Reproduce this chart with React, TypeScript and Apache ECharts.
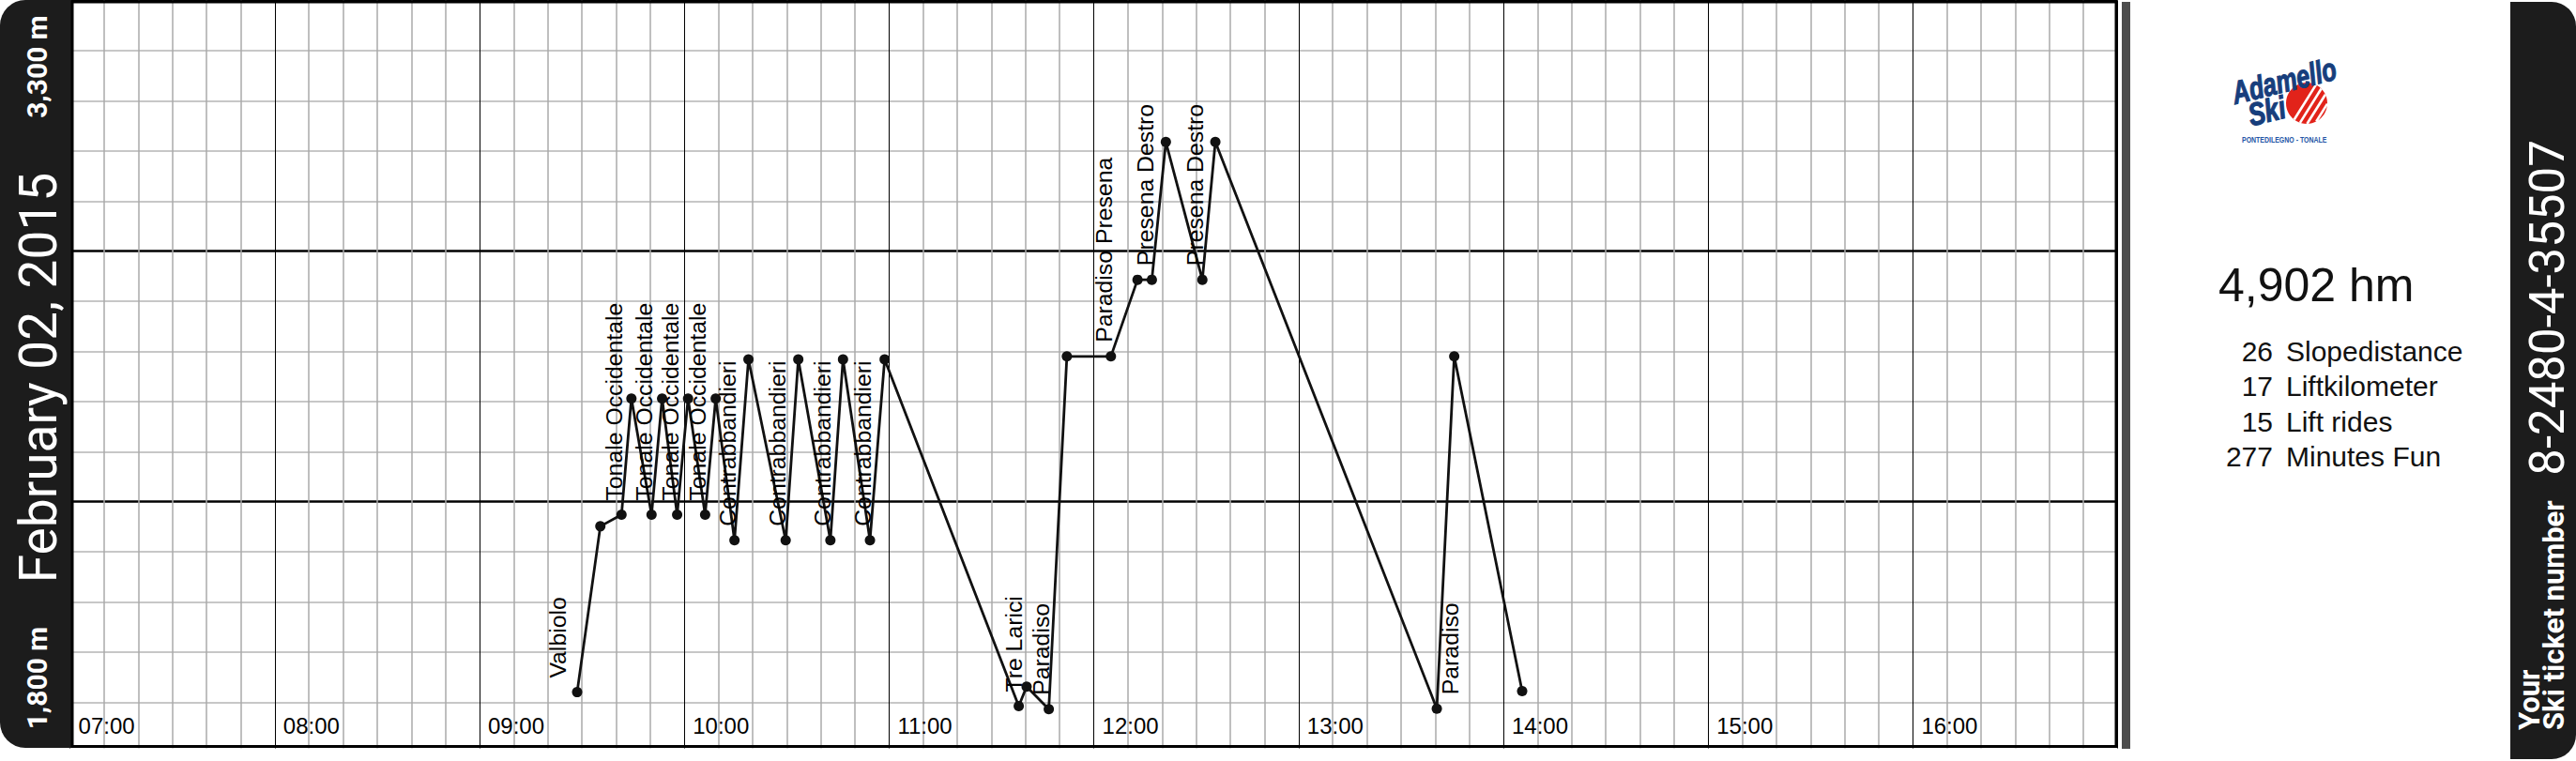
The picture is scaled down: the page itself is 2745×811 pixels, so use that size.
import React, { useEffect, useRef } from "react";
import * as echarts from "echarts";

// ---- data (time = minutes since midnight, altitude in metres) ----
const pointTimes = [
  568.6, 575.4, 581.6, 584.5, 590.4, 593.5, 597.9, 601.1, 606.1, 609.2,
  614.7, 618.8, 629.7, 633.4, 642.8, 646.5, 654.4, 658.7, 698.0, 700.3,
  706.8, 712.1, 725.0, 732.8, 737.0, 741.1, 751.8, 755.6, 820.5, 825.6, 845.5,
];
const pointAltitudes = [
  1920, 2251, 2274, 2506, 2274, 2506, 2274, 2506, 2274, 2506,
  2223, 2584, 2223, 2584, 2223, 2584, 2223, 2584, 1892, 1931,
  1886, 2590, 2590, 2743, 2743, 3018, 2743, 3018, 1887, 2590, 1922,
];
const liftNames = [
  "Valbiolo", "Tonale Occidentale", "Tonale Occidentale", "Tonale Occidentale",
  "Tonale Occidentale", "Contrabbandieri", "Contrabbandieri", "Contrabbandieri",
  "Contrabbandieri", "Tre Larici", "Paradiso", "Paradiso Presena",
  "Presena Destro", "Presena Destro", "Paradiso",
];
const liftLabelTimes = [
  562.9, 579.5, 588.3, 596.0, 603.9, 612.8, 627.4, 640.6, 652.2,
  696.7, 704.6, 723.0, 735.1, 749.7, 824.5,
];
const liftPointIndex = [0, 2, 4, 6, 8, 10, 12, 14, 16, 18, 20, 22, 24, 26, 28];

const timeMin = 420; // 07:00
const timeMax = 1020; // 17:00
const timeStep = 60;
const altMin = 1800;
const altMax = 3300;
const altStep = 500;

const dateText = "February 02, 2015";
const altLowText = "1,800 m";
const altHighText = "3,300 m";
const totalText = "4,902 hm";
const statValues = ["26", "17", "15", "277"];
const statNames = ["Slopedistance", "Liftkilometer", "Lift rides", "Minutes Fun"];
const ticketCaption1 = "Your";
const ticketCaption2 = "Ski ticket number";
const ticketNumber = "8-2480-4-35507";
const logoWord1 = "Adamello";
const logoWord2 = "Ski";
const logoPlace = "PONTEDILEGNO - TONALE";

const ARIAL = "'Liberation Sans', Arial, sans-serif";
const ROBOTO = "Roboto, 'Liberation Sans', sans-serif";

function hourLabel(v: number): string {
  if (v >= timeMax) return "";
  const h = Math.floor(v / 60);
  return (h < 10 ? "0" : "") + h + ":00";
}

function buildGraphic(): any[] {
  const els: any[] = [];
  // white cover under plot bottom
  els.push({
    type: "rect", z: 9, silent: true,
    shape: { x: 60, y: 797.5, width: 2202, height: 14 },
    style: { fill: "#fff" },
  });
  // left dark bar
  els.push({
    type: "rect", z: 10, silent: true,
    shape: { x: 0, y: 0, width: 76, height: 797, r: [27, 0, 0, 27] },
    style: { fill: "#1c1c1c" },
  });
  els.push({
    type: "text", z: 11, x: 39.5, y: 71, rotation: Math.PI / 2,
    style: { text: altHighText, fill: "#fff", fontSize: 30, fontWeight: "bold", fontFamily: ROBOTO, align: "center", verticalAlign: "middle" },
  });
  els.push({
    type: "text", z: 11, x: 39.5, y: 722.5, rotation: Math.PI / 2,
    style: { text: altLowText, fill: "#fff", fontSize: 30, fontWeight: "bold", fontFamily: ROBOTO, align: "center", verticalAlign: "middle" },
  });
  els.push({
    type: "text", z: 11, x: 41, y: 402.5, rotation: Math.PI / 2,
    style: { text: dateText, fill: "#fff", fontSize: 55, fontWeight: "normal", fontFamily: ROBOTO, align: "center", verticalAlign: "middle" },
  });
  // plot border
  els.push({
    type: "rect", z: 12, silent: true,
    shape: { x: 77, y: 2, width: 2178, height: 793.5 },
    style: { fill: "none", stroke: "#000", lineWidth: 3 },
  });
  // separator
  els.push({
    type: "rect", z: 10, silent: true,
    shape: { x: 2261, y: 2, width: 9, height: 796 },
    style: { fill: "#4d4d4d" },
  });
  // right dark bar
  els.push({
    type: "rect", z: 10, silent: true,
    shape: { x: 2675, y: 2, width: 70, height: 807, r: [0, 26, 26, 0] },
    style: { fill: "#1c1c1c" },
  });
  els.push({
    type: "text", z: 11, x: 2714, y: 328, rotation: Math.PI / 2,
    style: { text: ticketNumber, fill: "#fff", fontSize: 51, fontWeight: "normal", fontFamily: ROBOTO, align: "center", verticalAlign: "middle" },
  });
  els.push({
    type: "text", z: 11, x: 2695.5, y: 778, rotation: Math.PI / 2,
    style: { text: ticketCaption1, fill: "#fff", fontSize: 31, fontWeight: "bold", fontFamily: ROBOTO, align: "left", verticalAlign: "middle" },
  });
  els.push({
    type: "text", z: 11, x: 2721, y: 778, rotation: Math.PI / 2,
    style: { text: ticketCaption2, fill: "#fff", fontSize: 31, fontWeight: "bold", fontFamily: ROBOTO, align: "left", verticalAlign: "middle" },
  });
  // stats
  els.push({
    type: "text", z: 11, x: 2364, y: 304,
    style: { text: totalText, fill: "#111", fontSize: 50, fontFamily: ARIAL, align: "left", verticalAlign: "middle" },
  });
  statValues.forEach((v, i) => {
    const y = 374.5 + i * 37.3;
    els.push({
      type: "text", z: 11, x: 2422, y,
      style: { text: v, fill: "#111", fontSize: 30, fontFamily: ARIAL, align: "right", verticalAlign: "middle" },
    });
    els.push({
      type: "text", z: 11, x: 2436, y,
      style: { text: statNames[i], fill: "#111", fontSize: 30, fontFamily: ARIAL, align: "left", verticalAlign: "middle" },
    });
  });
  // logo
  const cx = 2458, cy = 110, r = 22;
  els.push({ type: "circle", z: 11, shape: { cx, cy, r }, style: { fill: "#e2231a" } });
  const ang = (58 * Math.PI) / 180;
  const ux = Math.cos(ang), uy = -Math.sin(ang);
  const nx = Math.sin(ang), ny = Math.cos(ang);
  [-2, 5, 12, 19].forEach((s) => {
    const L = Math.sqrt(Math.max(r * r - s * s, 0));
    els.push({
      type: "line", z: 12,
      shape: { x1: cx + s * nx - L * ux, y1: cy + s * ny - L * uy, x2: cx + s * nx + L * ux, y2: cy + s * ny + L * uy },
      style: { stroke: "#fff", lineWidth: 2.6 },
    });
  });
  els.push({
    type: "text", z: 13, x: 2383, y: 116, rotation: 0.24, scaleX: 0.74,
    style: { text: logoWord1, fill: "#173e7c", fontSize: 34, fontWeight: 900, fontStyle: "italic", fontFamily: ARIAL, align: "left", verticalAlign: "bottom", stroke: "#173e7c", lineWidth: 1.2 },
  });
  els.push({
    type: "text", z: 13, x: 2400, y: 139, rotation: 0.24, scaleX: 0.78,
    style: { text: logoWord2, fill: "#173e7c", fontSize: 34, fontWeight: 900, fontStyle: "italic", fontFamily: ARIAL, align: "left", verticalAlign: "bottom", stroke: "#173e7c", lineWidth: 1.2 },
  });
  els.push({
    type: "text", z: 13, x: 2389, y: 149, scaleX: 0.82,
    style: { text: logoPlace, fill: "#2456a6", fontSize: 8.5, fontWeight: "bold", fontFamily: ARIAL, align: "left", verticalAlign: "middle" },
  });
  return els;
}

export default function App() {
  const ref = useRef<HTMLDivElement>(null);
  useEffect(() => {
    if (!ref.current) return;
    const chart = echarts.init(ref.current, null, { renderer: "svg" });
    const lineData = pointTimes.map((t, i) => [t, pointAltitudes[i]]);
    const labelData = liftLabelTimes.map((t, i) => [t, pointAltitudes[liftPointIndex[i]]]);
    chart.setOption({
      animation: false,
      backgroundColor: "#fff",
      grid: { left: 74.6, right: 488.4, top: 0.7, bottom: 9.3, containLabel: false },
      xAxis: {
        type: "value", min: timeMin, max: timeMax, interval: timeStep,
        axisLine: { show: false }, axisTick: { show: false },
        axisLabel: {
          show: true, inside: true, margin: 28, align: "left", verticalAlign: "middle",
          padding: [0, 0, 0, 9], fontSize: 24, color: "#000", fontFamily: ARIAL,
          formatter: hourLabel, showMaxLabel: false,
        },
        splitLine: { show: true, lineStyle: { color: "#000", width: 1 } },
        minorTick: { show: false, splitNumber: 6 },
        minorSplitLine: { show: true, lineStyle: { color: "#aaaaaa", width: 1.5 } },
      },
      yAxis: {
        type: "value", min: altMin, max: altMax, interval: altStep,
        axisLine: { show: false }, axisTick: { show: false }, axisLabel: { show: false },
        splitLine: { show: true, lineStyle: { color: "#000", width: 2.5 } },
        minorTick: { show: false, splitNumber: 5 },
        minorSplitLine: { show: true, lineStyle: { color: "#b4b4b4", width: 1.5 } },
      },
      series: [
        {
          type: "line", data: lineData, symbol: "circle", symbolSize: 11, z: 4,
          lineStyle: { color: "#111", width: 2.8 }, itemStyle: { color: "#111" },
          silent: true,
        },
        {
          type: "custom", data: labelData, z: 5, silent: true, clip: false,
          renderItem: (params: any, api: any) => {
            const p = api.coord([api.value(0), api.value(1)]);
            return {
              type: "text", x: p[0], y: p[1] - 15, rotation: Math.PI / 2,
              style: {
                text: liftNames[params.dataIndex], fontSize: 24.8, fontFamily: ARIAL,
                fill: "#000", align: "left", verticalAlign: "middle",
              },
            };
          },
        },
      ],
      graphic: { elements: buildGraphic() },
    });
    return () => chart.dispose();
  }, []);
  return (
    <div
      ref={ref}
      style={{ position: "absolute", left: 0, top: 0, width: 2745, height: 811, background: "#fff" }}
    />
  );
}
